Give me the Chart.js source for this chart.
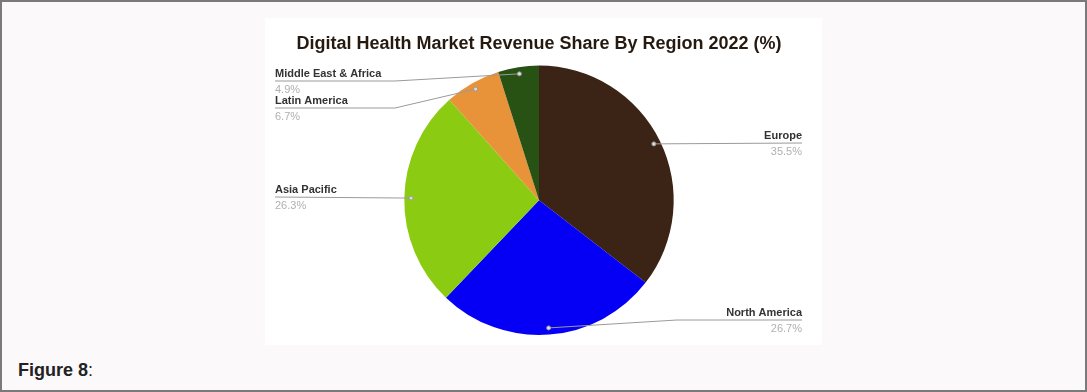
<!DOCTYPE html>
<html>
<head>
<meta charset="utf-8">
<script src="https://cdn.jsdelivr.net/npm/chart.js@4.4.1/dist/chart.umd.min.js"></script>
<style>
  html, body { margin: 0; padding: 0; }
  body {
    width: 1087px; height: 392px; box-sizing: border-box;
    border: 2px solid #7a7a7a; background: #fbf9fa;
    position: relative; overflow: hidden;
    font-family: "Liberation Sans", Arial, sans-serif;
  }
  #panel {
    position: absolute; left: 263px; top: 16px;
    width: 557px; height: 327px; background: #ffffff;
  }
  #caption {
    position: absolute; left: 16px; top: 359px;
    font-size: 18px; line-height: 18px; color: #222;
  }
</style>
</head>
<body>
<div id="panel"><canvas id="regionPie" width="557" height="327"></canvas></div>
<div id="caption"><b>Figure 8</b>:</div>

<script>
// revenue share by region, 2022 (%)
const regions = ["Europe", "North America", "Asia Pacific", "Latin America", "Middle East & Africa"];
const shares = [35.5, 26.7, 26.3, 6.7, 4.9];
const sliceColors = ["#3b2415", "#0500f5", "#8bcc12", "#e8933a", "#285214"];

// where each callout line goes: bend points then end point, in canvas px
const callouts = [
  { path: [[537, 125]], align: "right" },
  { path: [[412, 302], [537, 302]], align: "right" },
  { path: [[10, 179]], align: "left" },
  { path: [[130, 90], [10, 90]], align: "left" },
  { path: [[130, 63], [10, 63]], align: "left" }
];

const calloutLabels = {
  id: "calloutLabels",
  afterDatasetsDraw(chart) {
    const ctx = chart.ctx;
    const arcs = chart.getDatasetMeta(0).data;
    ctx.save();
    arcs.forEach((arc, i) => {
      const c = callouts[i];
      const mid = (arc.startAngle + arc.endAngle) / 2;
      const r = arc.outerRadius * 0.95;
      const px = arc.x + Math.cos(mid) * r;
      const py = arc.y + Math.sin(mid) * r;

      ctx.beginPath();
      ctx.moveTo(px, py);
      c.path.forEach(p => ctx.lineTo(p[0], p[1]));
      ctx.strokeStyle = "#9a9a9a";
      ctx.lineWidth = 1;
      ctx.stroke();

      ctx.beginPath();
      ctx.arc(px, py, 2, 0, Math.PI * 2);
      ctx.fillStyle = "#dddddd";
      ctx.fill();
      ctx.strokeStyle = "#999999";
      ctx.stroke();

      const end = c.path[c.path.length - 1];
      ctx.textAlign = c.align;
      ctx.textBaseline = "alphabetic";
      ctx.font = "bold 11px 'Liberation Sans', Arial, sans-serif";
      ctx.fillStyle = "#333333";
      ctx.fillText(regions[i], end[0], end[1] - 4);
      ctx.font = "11px 'Liberation Sans', Arial, sans-serif";
      ctx.fillStyle = "#b0b0b0";
      ctx.fillText(shares[i].toFixed(1) + "%", end[0], end[1] + 12);
    });
    ctx.restore();
  }
};

new Chart(document.getElementById("regionPie"), {
  type: "pie",
  data: {
    labels: regions,
    datasets: [{
      data: shares,
      backgroundColor: sliceColors,
      borderWidth: 0
    }]
  },
  options: {
    responsive: false,
    animation: false,
    devicePixelRatio: 1,
    layout: { padding: { left: 0, right: 9, top: 0, bottom: 10 } },
    plugins: {
      legend: { display: false },
      tooltip: { enabled: false },
      title: {
        display: true,
        text: "Digital Health Market Revenue Share By Region 2022 (%)",
        color: "#261a10",
        font: { family: "'Liberation Sans', Arial, sans-serif", size: 18, weight: "bold" },
        padding: { top: 15, bottom: 11 }
      }
    }
  },
  plugins: [calloutLabels]
});
</script>
</body>
</html>
